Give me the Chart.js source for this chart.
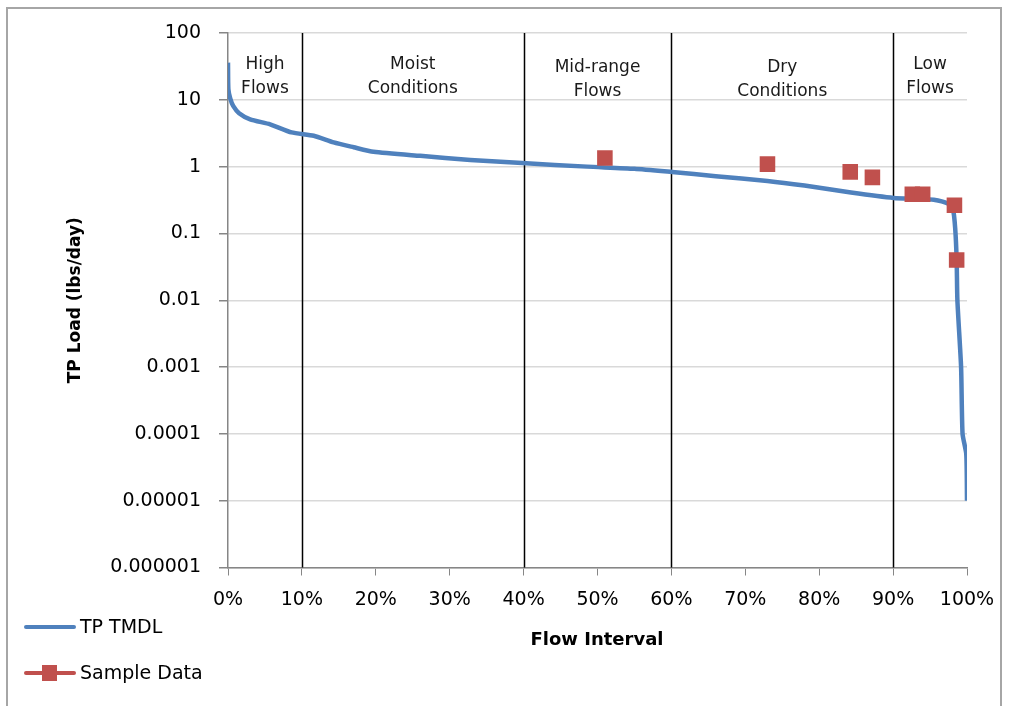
<!DOCTYPE html>
<html>
<head>
<meta charset="utf-8">
<script src="https://cdn.jsdelivr.net/npm/chart.js@4.4.0/dist/chart.umd.min.js"></script>
<style>
  body { margin: 0; background: #fff; }
  #wrap { position: relative; width: 1009px; height: 706px; overflow: hidden; }
  #frame { position: absolute; left: 6px; top: 7px; width: 996px; height: 720px; border: 2px solid #a6a6a6; box-sizing: border-box; }
  #chart { position: absolute; left: 0; top: 0; }
</style>
</head>
<body>
<div id="wrap">
  <div id="frame"></div>
  <canvas id="chart" width="1009" height="706"></canvas>
</div>
<script>
// curva de duracion de carga (TP TMDL)
const flowPct = [0, 0.05, 0.3, 0.7, 1.5, 3, 5.7, 8.6, 11.6, 14.3, 17, 19.7, 26, 32.8, 39.8, 48.6, 55, 60.1, 66, 73, 78, 84.3, 90.1, 93, 95.5, 97.4, 98.1, 98.4, 98.6, 98.7, 99.2, 99.4, 99.9, 100];
const tmdlLoad = [36, 14.5, 10.5, 8.1, 6.3, 5.1, 4.3, 3.25, 2.9, 2.3, 1.95, 1.67, 1.45, 1.26, 1.13, 1.0, 0.93, 0.83, 0.72, 0.61, 0.52, 0.41, 0.34, 0.33, 0.32, 0.28, 0.23, 0.12, 0.04, 0.01, 0.001, 0.0001, 0.00005, 0.00001];

// muestras
const sampleFlow = [51, 73, 84.2, 87.2, 92.6, 94.0, 98.3, 98.6];
const sampleLoad = [1.35, 1.09, 0.835, 0.69, 0.387, 0.385, 0.265, 0.04];

const yTickValues = [0.000001, 0.00001, 0.0001, 0.001, 0.01, 0.1, 1, 10, 100];
const yTickLabels = ['0.000001', '0.00001', '0.0001', '0.001', '0.01', '0.1', '1', '10', '100'];
const xTickValues = [0, 10, 20, 30, 40, 50, 60, 70, 80, 90, 100];

const zoneBounds = [0, 10, 40, 60, 90, 100];
const zoneNames = [['High', 'Flows'], ['Moist', 'Conditions'], ['Mid-range', 'Flows'], ['Dry', 'Conditions'], ['Low', 'Flows']];

const blue = '#4F81BD';
const red = '#C0504D';
const axisGray = '#868686';
const FONT = 'DejaVu Sans';

Chart.defaults.font.family = FONT;
Chart.defaults.color = '#000';

const zonesPlugin = {
  id: 'zones',
  beforeDatasetsDraw(chart) {
    const {ctx, chartArea, scales} = chart;
    ctx.save();
    ctx.strokeStyle = '#000';
    ctx.lineWidth = 1.5;
    zoneBounds.slice(1, -1).forEach(b => {
      const x = Math.round(scales.x.getPixelForValue(b)) + 0.5;
      ctx.beginPath();
      ctx.moveTo(x, chartArea.top);
      ctx.lineTo(x, chartArea.bottom);
      ctx.stroke();
    });
    ctx.fillStyle = '#1a1a1a';
    ctx.font = '17px ' + FONT;
    ctx.textAlign = 'center';
    ctx.textBaseline = 'middle';
    zoneNames.forEach((lines, i) => {
      const cx = scales.x.getPixelForValue((zoneBounds[i] + zoneBounds[i + 1]) / 2);
      const dy = (i === 2 || i === 3) ? 3 : 0;
      lines.forEach((t, j) => ctx.fillText(t, cx, 65 + dy + j * 24));
    });
    ctx.restore();
  },
  afterDraw(chart) {
    const {ctx, chartArea} = chart;
    ctx.save();
    ctx.fillStyle = '#000';
    // titulos de ejes
    ctx.font = 'bold 18px ' + FONT;
    ctx.textAlign = 'center';
    ctx.textBaseline = 'middle';
    ctx.fillText('Flow Interval', 597, 640);
    ctx.translate(76, (chartArea.top + chartArea.bottom) / 2);
    ctx.rotate(-Math.PI / 2);
    ctx.font = 'bold 17px ' + FONT;
    ctx.fillText('TP Load (lbs/day)', 0, 0);
    ctx.restore();

    // leyenda
    ctx.save();
    ctx.lineWidth = 4;
    ctx.lineCap = 'round';
    ctx.strokeStyle = chart.data.datasets[0].borderColor;
    ctx.beginPath(); ctx.moveTo(26, 627); ctx.lineTo(74, 627); ctx.stroke();
    ctx.strokeStyle = chart.data.datasets[1].borderColor;
    ctx.beginPath(); ctx.moveTo(26, 673); ctx.lineTo(74, 673); ctx.stroke();
    ctx.fillStyle = chart.data.datasets[1].backgroundColor;
    ctx.fillRect(42, 665, 15, 16);
    ctx.fillStyle = '#000';
    ctx.font = '19px ' + FONT;
    ctx.textAlign = 'left';
    ctx.textBaseline = 'middle';
    ctx.fillText('TP TMDL', 80, 628);
    ctx.fillText('Sample Data', 80, 674);
    ctx.restore();
  }
};

new Chart(document.getElementById('chart'), {
  type: 'scatter',
  data: {
    datasets: [{
      label: 'TP TMDL',
      data: flowPct.map((x, i) => ({x: x, y: tmdlLoad[i]})),
      showLine: true,
      borderColor: blue,
      backgroundColor: blue,
      borderWidth: 4.5,
      pointRadius: 0,
      tension: 0.2,
      order: 2
    }, {
      label: 'Sample Data',
      data: sampleFlow.map((x, i) => ({x: x, y: sampleLoad[i]})),
      showLine: false,
      borderColor: red,
      backgroundColor: red,
      pointStyle: 'rect',
      pointRadius: 11,
      pointBorderWidth: 0,
      order: 1
    }]
  },
  options: {
    responsive: false,
    animation: false,
    devicePixelRatio: 1,
    layout: { padding: { top: 33, right: 42, bottom: 0, left: 0 } },
    scales: {
      x: {
        type: 'linear',
        min: 0,
        max: 100,
        afterBuildTicks: s => { s.ticks = xTickValues.map(v => ({value: v})); },
        afterFit: s => { s.height = 138.5; },
        ticks: { callback: v => v + '%', font: { size: 19 }, padding: 13, maxRotation: 0 },
        grid: { drawOnChartArea: false, tickLength: 8, tickColor: axisGray },
        border: { color: axisGray, width: 1.5 }
      },
      y: {
        type: 'logarithmic',
        min: 0.000001,
        max: 100,
        afterBuildTicks: s => { s.ticks = yTickValues.map(v => ({value: v})); },
        afterFit: s => { s.width = 228; },
        ticks: { callback: v => yTickLabels[yTickValues.indexOf(v)], font: { size: 19 }, padding: 18 },
        grid: { color: '#d9d9d9', lineWidth: 1.5, tickLength: 9, tickColor: axisGray },
        border: { color: axisGray, width: 1.5 }
      }
    },
    plugins: {
      legend: { display: false },
      tooltip: { enabled: false }
    }
  },
  plugins: [zonesPlugin]
});
</script>
</body>
</html>
